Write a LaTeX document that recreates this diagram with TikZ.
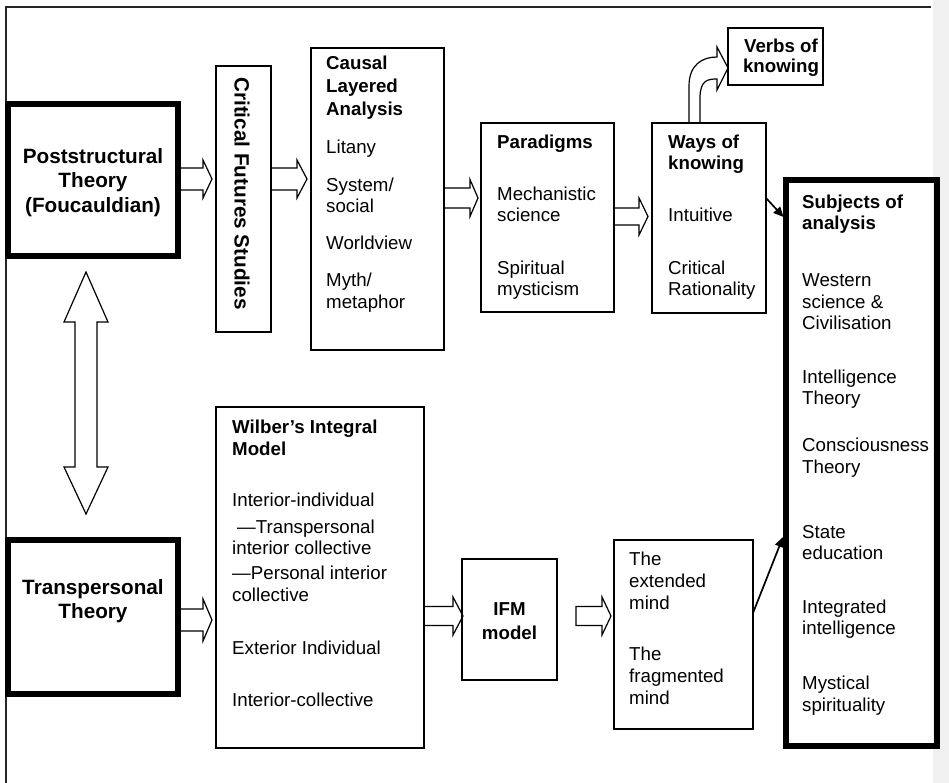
\documentclass[tikz,border=0pt]{standalone}
\usepackage{fontspec}
\setmainfont{Liberation Sans}
\usetikzlibrary{calc,arrows.meta}
\pgfdeclarelayer{bg}
\pgfsetlayers{bg,main}

% hollow block arrow: #1 tail, #2 tip, #3 half shaft width, #4 half head width, #5 head length
\newcommand{\hollowarrow}[5]{%
  \path[hollow] let \p1=#1, \p2=#2 in
    (\x1,\y2+#3) -- (\x2-#5,\y2+#3) -- (\x2-#5,\y2+#4) -- (\x2,\y2)
    -- (\x2-#5,\y2-#4) -- (\x2-#5,\y2-#3) -- (\x1,\y2-#3) -- cycle;}

\begin{document}
\begin{tikzpicture}[x=1pt,y=-1pt,
  box/.style={draw=black, line width=1.3pt, inner sep=0pt, outer sep=0pt},
  heavybox/.style={draw=black, line width=6.5pt, inner sep=0pt, outer sep=0pt},
  txt/.style={anchor=base west, inner sep=0pt, font=\fontsize{18.7}{21.5}\selectfont},
  ttl/.style={anchor=base west, inner sep=0pt, font=\fontsize{18.7}{21.5}\selectfont\bfseries},
  ctrttl/.style={inner sep=0pt, align=center},
  bigttl/.style={inner sep=0pt, align=center, font=\fontsize{20.7}{24.5}\selectfont\bfseries},
  hollow/.style={draw=black, fill=white, line width=1.2pt, line join=miter},
  pointer/.style={draw=black, line width=1.7pt, -{Triangle[length=10pt,width=9pt]}},
]
\useasboundingbox (0,0) rectangle (949,783);

% page margin strip and outer frame
\begin{pgfonlayer}{bg}
  \fill[black!6] (933,0) rectangle (949,783);
\end{pgfonlayer}
\draw[line width=1.5pt, black!85] (6,783) -- (6,7) -- (931,7);

% ---------- boxes ----------
\node[heavybox, minimum width=170pt, minimum height=152pt] (post) at (93,180) {};
\node[heavybox, minimum width=170pt, minimum height=154pt] (trans) at (93,617) {};
\node[box, minimum width=55pt,  minimum height=266pt] (cfs)   at (243.5,199) {};
\node[box, minimum width=133pt, minimum height=302pt] (cla)   at (377.5,199) {};
\node[box, minimum width=133pt, minimum height=189pt] (par)   at (547.5,217.5) {};
\node[box, minimum width=114pt, minimum height=190pt] (ways)  at (709,218) {};
\node[box, minimum width=95pt,  minimum height=57pt]  (verbs) at (775.5,56.5) {};
\node[heavybox, minimum width=151pt, minimum height=566pt] (subj) at (861.5,463) {};
\node[box, minimum width=208pt, minimum height=341pt] (wil)   at (320,577.5) {};
\node[box, minimum width=95pt,  minimum height=121pt] (ifm)   at (509.5,619.5) {};
\node[box, minimum width=139pt, minimum height=189pt] (ext)   at (683.5,634.5) {};

% ---------- box texts ----------
\node[bigttl] (postT) at (93,182.5) {Poststructural\\Theory\\(Foucauldian)};
\node[bigttl] (transT) at (93,601) {Transpersonal\\Theory};
\node[bigttl, rotate=-90] (cfsT) at (242,193.5) {Critical Futures Studies};

\node[ttl] (cla1) at (326,69.5)  {Causal};
\node[ttl] (cla2) at (326,92.5)  {Layered};
\node[ttl] (cla3) at (326,115.5) {Analysis};
\node[txt] (cla4) at (326,153.5) {Litany};
\node[txt] (cla5) at (326,191.5) {System/};
\node[txt] (cla6) at (326,212.5) {social};
\node[txt] (cla7) at (326,249.5) {Worldview};
\node[txt] (cla8) at (326,286.5) {Myth/};
\node[txt] (cla9) at (326,308.5) {metaphor};

\node[ttl] (par1) at (497,148.5) {Paradigms};
\node[txt] (par2) at (497,200.5) {Mechanistic};
\node[txt] (par3) at (497,221.5) {science};
\node[txt] (par4) at (497,274.5) {Spiritual};
\node[txt] (par5) at (497,295.5) {mysticism};

\node[ttl] (ways1) at (668,148.5) {Ways of};
\node[ttl] (ways2) at (668,169.5) {knowing};
\node[txt] (ways3) at (668,221.5) {Intuitive};
\node[txt] (ways4) at (668,274.5) {Critical};
\node[txt] (ways5) at (668,295.5) {Rationality};

\node[ctrttl, font=\fontsize{18.7}{20}\selectfont\bfseries] (verbsT) at (781,57.6) {Verbs of\\knowing};
\node[ctrttl, font=\fontsize{18.7}{24}\selectfont\bfseries] (ifmT) at (509.5,621) {IFM\\model};

\node[ttl] (subj1)  at (802,208.5) {Subjects of};
\node[ttl] (subj2)  at (802,229.5) {analysis};
\node[txt] (subj3)  at (802,286.5) {Western};
\node[txt] (subj4)  at (802,308.5) {science \&};
\node[txt] (subj5)  at (802,329.5) {Civilisation};
\node[txt] (subj6)  at (802,383.5) {Intelligence};
\node[txt] (subj7)  at (802,404.5) {Theory};
\node[txt] (subj8)  at (802,451.5) {Consciousness};
\node[txt] (subj9)  at (802,473.5) {Theory};
\node[txt] (subj10) at (802,538.5) {State};
\node[txt] (subj11) at (802,559.5) {education};
\node[txt] (subj12) at (802,613.5) {Integrated};
\node[txt] (subj13) at (802,634.5) {intelligence};
\node[txt] (subj14) at (802,689.5) {Mystical};
\node[txt] (subj15) at (802,711.5) {spirituality};

\node[ttl] (wil1) at (232,433.5) {Wilber’s Integral};
\node[ttl] (wil2) at (232,455.5) {Model};
\node[txt] (wil3) at (232,506.5) {Interior-individual};
\node[txt] (wil4) at (237,533.5) {—Transpersonal};
\node[txt] (wil5) at (232,554.5) {interior collective};
\node[txt] (wil6) at (232,579.5) {—Personal interior};
\node[txt] (wil7) at (232,601.5) {collective};
\node[txt] (wil8) at (232,654.5) {Exterior Individual};
\node[txt] (wil9) at (232,706.5) {Interior-collective};

\node[txt] (ext1) at (629,565.5) {The};
\node[txt] (ext2) at (629,587.5) {extended};
\node[txt] (ext3) at (629,609.5) {mind};
\node[txt] (ext4) at (629,660.5) {The};
\node[txt] (ext5) at (629,682.5) {fragmented};
\node[txt] (ext6) at (629,704.5) {mind};

% ---------- hollow block arrows (behind the box borders) ----------
\begin{pgfonlayer}{bg}
  \hollowarrow{(post.east)}{($(cfs.west|-post.east)+(-4,-1)$)}{11}{19}{9}
  \hollowarrow{(cfs.east)}{($(cla.west|-post.east)+(-4,-1)$)}{11}{19}{10}
  \hollowarrow{(cla.east)}{($(par.west|-cla.east)+(-3,-1)$)}{10}{18.5}{8}
  \hollowarrow{(par.east)}{($(ways.west|-par.east)+(-4,-1)$)}{8.5}{18.5}{9}
  \hollowarrow{(trans.east)}{($(wil.west|-trans.east)+(-4,3)$)}{11}{21}{9}
  \hollowarrow{(wil.east)}{($(ifm.west)+(1,-3.5)$)}{9.5}{19}{10}
  \hollowarrow{($(ifm.east)+(19,0)$)}{($(ext.west)+(-3,-18.5)$)}{9.5}{19}{9}

  % two-way arrow between the two theories
  \path[hollow] let \p1=($(post.south)+(-7,16)$), \p2=($(trans.north)+(-7,-26)$) in
    (\x1,\y1) -- (\x1+22,\y1-50) -- (\x1+11,\y1-50) -- (\x1+11,\y2+47)
    -- (\x1+22,\y2+47) -- (\x2,\y2) -- (\x1-22,\y2+47) -- (\x1-11,\y2+47)
    -- (\x1-11,\y1-50) -- (\x1-22,\y1-50) -- cycle;

  % bent arrow up to the verbs box
  \path[hollow] ($(ways.north)+(-20,0)$) -- ($(ways.north)+(-20,-37)$)
    .. controls ($(ways.north)+(-20,-58)$) and ($(verbs.west)+(-26,0.5)$) .. ($(verbs.west)+(-11,0.5)$)
    -- ($(verbs.west)+(-11,-9.5)$) -- ($(verbs.west)+(0,11.5)$) -- ($(verbs.west)+(-11,33.5)$)
    -- ($(verbs.west)+(-11,22.5)$)
    .. controls ($(verbs.west)+(-20,22.5)$) and ($(ways.north)+(-9,-43)$) .. ($(ways.north)+(-9,-25)$)
    -- ($(ways.north)+(-9,0)$);
\end{pgfonlayer}

% ---------- thin pointers into the subjects box ----------
\draw[pointer] ($(ways.east)+(0,-20)$) -- ($(subj.west)+(-2.5,-246)$);
\draw[pointer] ($(ext.east)+(0,-21.5)$) -- ($(subj.west)+(-3,74)$);

\end{tikzpicture}
\end{document}
